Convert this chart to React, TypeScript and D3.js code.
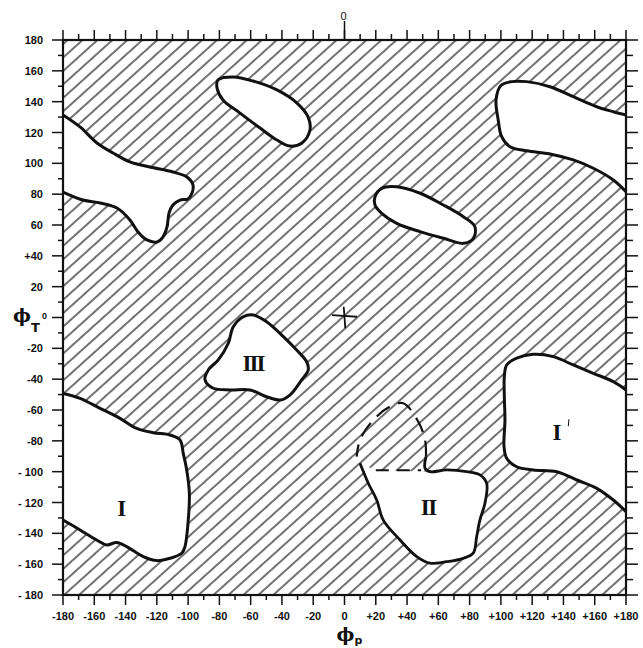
import React from 'react';
import * as d3 from 'd3';

// conformational map, phi_p vs phi_T (degrees)
type Pt = [number, number];

const xTicks = d3.range(-180, 181, 10);
const yTicks = d3.range(-180, 181, 10);
const xTickLabels = ['-180', '-160', '-140', '-120', '-100', '-80', '-60', '-40', '-20', '0',
  '+20', '+40', '+60', '+80', '+100', '+120', '+140', '+160', '+180'];
const yTickLabels = ['- 180', '- 160', '- 140', '- 120', '- 100', '-80', '-60', '-40', '-20', '0',
  '20', '+40', '60', '80', '100', '120', '140', '160', '180'];

// allowed (white) regions touching the frame
const topLeftRegion: Pt[] = [
  [-180, 131.4], [-169.1, 123.6], [-158.3, 113.2], [-148, 106.7], [-137.2, 100.9], [-124.4, 97.6],
  [-109.7, 94.4], [-100.7, 91.1], [-96.9, 86], [-97.5, 80.8], [-100.1, 76.9], [-105.2, 76.2],
  [-109.7, 73], [-112.2, 67.8], [-113.5, 58.7], [-116.1, 52.2], [-119.9, 49], [-126.3, 50.3],
  [-132, 55.5], [-137.2, 63.3], [-145.5, 71], [-156.3, 74.3], [-167.2, 76.2], [-180, 81.4]
];
const topRightRegion: Pt[] = [
  [180, 81.6], [171.9, 89.2], [159.1, 96.8], [146.3, 102.2], [131.4, 106.1], [116.5, 108.2],
  [105.8, 110.8], [100.5, 117.3], [98.3, 128.1], [96.9, 141.1], [100, 150.5], [107, 153],
  [116.5, 153], [131.4, 149.7], [146.3, 143.2], [161.3, 136.7], [171.9, 133.5], [180, 131.4]
];
const regionI: Pt[] = [
  [-180, -49.2], [-169.1, -52.4], [-156.3, -58.9], [-143.6, -65.4], [-132.9, -71.9], [-122.3, -74.7],
  [-111.6, -76.2], [-105.2, -79.4], [-103.1, -88.1], [-100.9, -98.9], [-99.2, -114], [-99.9, -131.3],
  [-102, -148.6], [-104.1, -152.9], [-111.6, -156.2], [-120.1, -157.7], [-128.7, -155.1],
  [-139.3, -148.6], [-145.7, -146], [-152.1, -147.5], [-158.5, -144.3], [-169.1, -137.8], [-180, -131.3]
];
const regionIPrime: Pt[] = [
  [180, -47], [171.9, -41.6], [159.1, -36.2], [146.3, -30.8], [133.5, -25.4], [120.7, -23.9],
  [110.1, -26.4], [103.7, -30.8], [102.2, -38.4], [102.2, -51.4], [102.6, -66.5], [102, -83.8],
  [103.7, -91.3], [110.1, -96.8], [120.7, -98.9], [135.7, -100], [148.5, -105.4], [161.3, -110.8],
  [171.9, -118.4], [180, -125.9]
];

// closed islands
const upperOval: Pt[] = [
  [-80.9, 154.1], [-71.3, 156], [-58.5, 153.4], [-43.2, 147.6], [-30.4, 139.1], [-23.3, 130.1],
  [-22.1, 121.6], [-27.2, 113.2], [-34.9, 111.2], [-43.2, 115.1], [-54, 122.9], [-66.8, 132.6],
  [-77.7, 141.1], [-81.5, 148.9]
];
const midOval: Pt[] = [
  [19.5, 78.4], [23.8, 83.8], [33.4, 84.8], [48.3, 80.6], [63.2, 73], [76, 65.4], [83.4, 58.9],
  [82.4, 51.4], [76, 48.1], [63.2, 51.4], [48.3, 55.7], [33.4, 61.1], [23.8, 67.6], [19.5, 73]
];
const regionIII: Pt[] = [
  [-64.7, 0.5], [-58.3, 1.6], [-49.8, -2.7], [-39.1, -12.4], [-30.6, -21.1], [-24.2, -28.7],
  [-23.2, -34], [-27.4, -40.5], [-34.9, -50.3], [-41.2, -53.5], [-49.8, -51.4], [-60.4, -47],
  [-73.2, -47], [-83.9, -45.9], [-89.2, -40.5], [-87.1, -34], [-80.7, -27.5], [-74.3, -16.7],
  [-71.1, -6]
];

// region II: solid boundary, dashed tentative boundary
const regionIISolid: Pt[] = [
  [9.9, -94.6], [15.2, -107.5], [20.6, -118.4], [24.8, -131.4], [35.5, -144.3], [46.2, -155.1],
  [54.7, -159.4], [65.3, -158.4], [76, -156.2], [82.3, -152.9], [84.5, -142.2], [86.6, -131.3],
  [89.8, -120.5], [90.9, -107.5], [86.6, -102.1], [78.1, -100], [65.3, -98.9], [54.7, -100],
  [51.5, -97.8], [52.1, -90.3]
];
const regionIIArc: Pt[] = [
  [52.1, -90.3], [51.5, -79.4], [47.2, -67.6], [37.6, -55.6], [29.1, -57.8], [18.4, -66.5],
  [9.9, -79.4], [7.8, -90.3]
];
const regionIIBar: Pt[] = [[20, -99], [49, -99]];

const labels: { text: string; at: Pt; spacing: number }[] = [
  { text: 'I', at: [-142.5, -123.7], spacing: 0 },
  { text: 'II', at: [53.6, -122.7], spacing: -1.5 },
  { text: 'III', at: [-58.5, -29.5], spacing: -2 },
  { text: 'I', at: [135.9, -74], spacing: 0 }
];
const primeAt: Pt = [143.5, -66];

const W = 643;
const H = 648;
const left = 63, right = 626, top = 40, bottom = 595;

export default function App() {
  const x = d3.scaleLinear().domain([-180, 180]).range([left, right]);
  const y = d3.scaleLinear().domain([-180, 180]).range([bottom, top]);

  const openLine = d3.line<Pt>().x(d => x(d[0])).y(d => y(d[1])).curve(d3.curveCatmullRom.alpha(0.5));
  const closedLine = d3.line<Pt>().x(d => x(d[0])).y(d => y(d[1])).curve(d3.curveCatmullRomClosed.alpha(0.5));
  const straight = d3.line<Pt>().x(d => x(d[0])).y(d => y(d[1]));

  const edgeRegions = [topLeftRegion, topRightRegion, regionI, regionIPrime];
  const islands = [upperOval, midOval, regionIII];

  const fillII = openLine(regionIISolid.slice(0, 18)) + 'L' + x(regionIIBar[0][0]) + ',' + y(regionIIBar[0][1]) + 'Z';

  const axisFont = '"Liberation Sans Narrow", "Liberation Sans", Arial, sans-serif';
  const ink = '#111';

  return (
    <svg width={W} height={H} style={{ position: 'absolute', left: 0, top: 0, background: '#fff' }}>
      <defs>
        <pattern id="hatch" width="10" height="10" patternUnits="userSpaceOnUse" patternTransform="rotate(-42)">
          <line x1="0" y1="5" x2="10" y2="5" stroke={ink} strokeWidth="1.2" />
        </pattern>
        <clipPath id="plot">
          <rect x={left} y={top} width={right - left} height={bottom - top} />
        </clipPath>
      </defs>

      <rect x={left} y={top} width={right - left} height={bottom - top} fill="url(#hatch)" />

      <g clipPath="url(#plot)">
        {edgeRegions.map((r, i) => (
          <g key={'e' + i}>
            <path d={openLine(r) + 'Z'} fill="#fff" />
            <path d={openLine(r) || ''} fill="none" stroke={ink} strokeWidth="3" strokeLinejoin="round" />
          </g>
        ))}
        {islands.map((r, i) => (
          <path key={'i' + i} d={closedLine(r) || ''} fill="#fff" stroke={ink} strokeWidth="3" />
        ))}
        <path d={fillII} fill="#fff" />
        <path d={openLine(regionIISolid) || ''} fill="none" stroke={ink} strokeWidth="2.8" strokeLinejoin="round" />
        <path d={openLine(regionIIArc) || ''} fill="none" stroke={ink} strokeWidth="2.2" strokeDasharray="16 9" />
        <path d={straight(regionIIBar) || ''} fill="none" stroke={ink} strokeWidth="2" strokeDasharray="13 8" />
      </g>

      {/* origin cross */}
      <path d={straight([[-8, 1.5], [8, 0.5]]) || ''} stroke={ink} strokeWidth="1.8" />
      <path d={straight([[-0.5, 7], [0.5, -7]]) || ''} stroke={ink} strokeWidth="1.8" />

      {labels.map((l, i) => (
        <text key={'l' + i} x={x(l.at[0])} y={y(l.at[1]) + 8} textAnchor="middle"
          fontFamily='"Liberation Serif", "DejaVu Serif", serif' fontWeight="bold" fontSize="23"
          letterSpacing={l.spacing} fill={ink}>{l.text}</text>
      ))}
      <line x1={x(primeAt[0])} y1={y(primeAt[1])} x2={x(primeAt[0]) - 0.6} y2={y(primeAt[1]) + 7}
        stroke={ink} strokeWidth="1" />

      {/* frame */}
      <rect x={left} y={top} width={right - left} height={bottom - top} fill="none" stroke={ink} strokeWidth="2.2" />

      {/* ticks */}
      {xTicks.map(v => {
        const major = v % 20 === 0;
        return (
          <g key={'xt' + v}>
            <line x1={x(v)} x2={x(v)} y1={bottom} y2={bottom + (major ? 10 : 5)} stroke={ink} strokeWidth="1.5" />
            <line x1={x(v)} x2={x(v)} y1={top} y2={top - (major ? 10 : 6)} stroke={ink} strokeWidth="1.5" />
          </g>
        );
      })}
      {yTicks.map(v => {
        const major = v % 20 === 0;
        return (
          <g key={'yt' + v}>
            <line x1={left} x2={left - (major ? 11 : 5)} y1={y(v)} y2={y(v)} stroke={ink} strokeWidth="1.5" />
            <line x1={right} x2={right + (major ? 12 : 7)} y1={y(v)} y2={y(v)} stroke={ink} strokeWidth="1.5" />
          </g>
        );
      })}
      <line x1={x(0)} x2={x(0)} y1={top} y2={top - 19} stroke={ink} strokeWidth="1.5" />
      <text x={x(0) - 1} y={top - 20} textAnchor="middle" fontFamily={axisFont} fontSize="11" fill={ink}>0</text>

      {/* tick labels */}
      {d3.range(-180, 181, 20).map((v, i) => (
        <text key={'xl' + v} x={x(v)} y={bottom + 25} textAnchor="middle" fontFamily={axisFont}
          fontWeight="bold" fontSize="11" fill={ink}>{xTickLabels[i]}</text>
      ))}
      {d3.range(-180, 181, 20).map((v, i) => (
        <text key={'yl' + v} x={v === 0 ? 47 : 43} y={y(v) + (v === 0 ? 1 : 4)} textAnchor="end"
          fontFamily={axisFont} fontWeight="bold" fontSize={v === 0 ? 9 : 11} fill={ink}
          style={{ whiteSpace: 'pre' }}>{yTickLabels[i]}</text>
      ))}

      {/* axis titles */}
      <text x={x(0) - 8} y={641} fontFamily='"DejaVu Serif", serif' fontWeight="bold" fontSize="19" fill={ink}>ϕ
        <tspan fontFamily='"DejaVu Sans", sans-serif' fontSize="11" dy="3">p</tspan>
      </text>
      <text x={13} y={322} fontFamily='"DejaVu Serif", serif' fontWeight="bold" fontSize="19" fill={ink}>ϕ
        <tspan fontFamily='"DejaVu Sans", sans-serif' fontSize="13" dy="10">T</tspan>
      </text>
    </svg>
  );
}
